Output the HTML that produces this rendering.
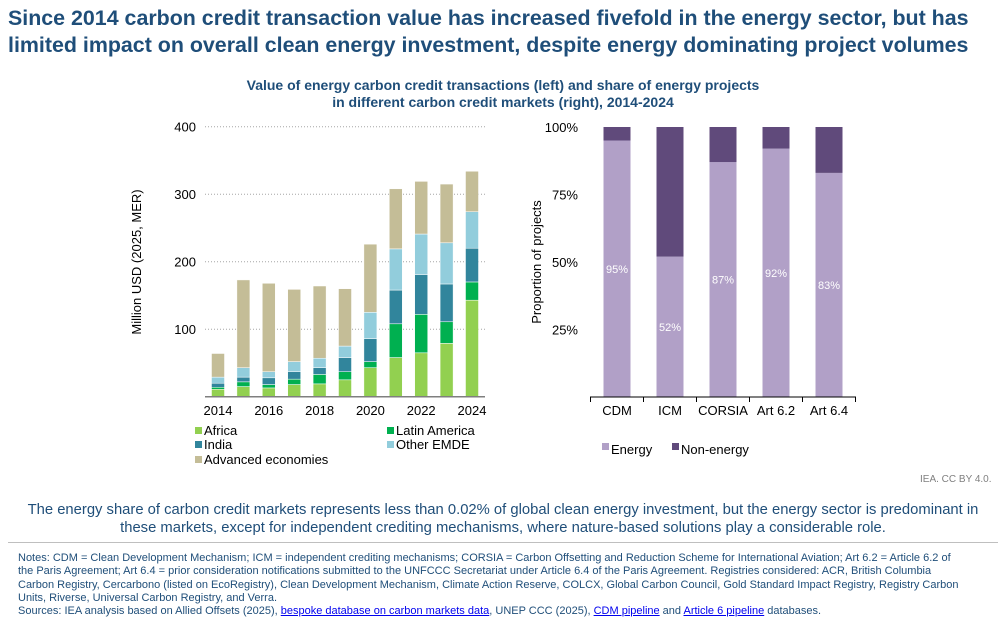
<!DOCTYPE html>
<html><head><meta charset="utf-8"><style>
body{margin:0;width:1006px;height:623px;background:#fff;font-family:"Liberation Sans",Arial,sans-serif;position:relative;overflow:hidden}
.abs{position:absolute}
a{color:#0000ee;text-decoration:underline}
</style></head><body>
<div class="abs" style="left:8px;top:5px;width:985px;font-size:21.4px;font-weight:bold;color:#1f4e79;line-height:27px">Since 2014 carbon credit transaction value has increased fivefold in the energy sector, but has limited impact on overall clean energy investment, despite energy dominating project volumes</div>
<div class="abs" style="left:0;top:77px;width:1006px;text-align:center;font-size:14px;font-weight:bold;color:#1f4e79;line-height:17px">Value of energy carbon credit transactions (left) and share of energy projects<br>in different carbon credit markets (right), 2014-2024</div>
<svg class="abs" style="left:0;top:0" width="1006" height="623" id="chart"></svg>
<div class="abs" style="left:920px;top:474px;font-size:10px;color:#808080">IEA. CC BY 4.0.</div>
<div class="abs" style="left:23px;top:501px;width:960px;text-align:center;font-size:14.8px;color:#1f4e79;line-height:18px">The energy share of carbon credit markets represents less than 0.02% of global clean energy investment, but the energy sector is predominant in these markets, except for independent crediting mechanisms, where nature-based solutions play a considerable role.</div>
<div class="abs" style="left:8px;top:542px;width:990px;height:1px;background:#bfbfbf"></div>
<div class="abs" style="left:18px;top:552px;width:947px;font-size:11px;color:#1f4e79;line-height:13.3px">Notes: CDM = Clean Development Mechanism; ICM = independent crediting mechanisms; CORSIA = Carbon Offsetting and Reduction Scheme for International Aviation; Art 6.2 = Article 6.2 of the Paris Agreement; Art 6.4 = prior consideration notifications submitted to the UNFCCC Secretariat under Article 6.4 of the Paris Agreement. Registries considered: ACR, British Columbia Carbon Registry, Cercarbono (listed on EcoRegistry), Clean Development Mechanism, Climate Action Reserve, COLCX, Global Carbon Council, Gold Standard Impact Registry, Registry Carbon Units, Riverse, Universal Carbon Registry, and Verra.</div>
<div class="abs" style="left:18px;top:605px;font-size:11px;color:#1f4e79">Sources: IEA analysis based on Allied Offsets (2025), <a>bespoke database on carbon markets data</a>, UNEP CCC (2025), <a>CDM pipeline</a> and <a>Article 6 pipeline</a> databases.</div>
<script>
const years=[2014,2015,2016,2017,2018,2019,2020,2021,2022,2023,2024];
const africa=[11,15,13,18,19,25,43,58,65,79,143];
const latam=[3,7,5,8,14,12,9,50,57,32,27];
const india=[6,7,10,11,10,21,34,50,59,56,50];
const otherEmde=[9,14,9,15,14,17,39,61,60,61,54];
const advanced=[35,130,131,107,107,85,101,89,78,87,60];
const leftTicks=[100,200,300,400];
const xLabels=[2014,2016,2018,2020,2022,2024];
const markets=["CDM","ICM","CORSIA","Art 6.2","Art 6.4"];
const energyShare=[95,52,87,92,83];
const rightTicks=[25,50,75,100];

const svg=document.getElementById('chart');
const NS='http://www.w3.org/2000/svg';
function mk(t,a,txt){const e=document.createElementNS(NS,t);for(const k in a)e.setAttribute(k,a[k]);if(txt!==undefined)e.textContent=txt;svg.appendChild(e);return e;}
const ly=v=>396.7-v*0.675;
const lx=i=>218+i*25.4;
const bw=13;
leftTicks.forEach(t=>{
 const g=mk('line',{x1:205,x2:485,y1:ly(t),y2:ly(t),stroke:'#a6a6a6','stroke-dasharray':'1,2'});
 
 const l=mk('text',{x:196,y:ly(t)+5,'text-anchor':'end','font-size':13,fill:'#000'},t);
 
});
const series=[[africa,'#92d050','africa'],[latam,'#00b050','latin-america'],[india,'#31859c','india'],[otherEmde,'#92cddc','other-emde'],[advanced,'#c4bd97','advanced-economies']];
years.forEach((y,i)=>{
 let base=0;
 series.forEach(([arr,c,n])=>{
  const v=arr[i];
  const r=mk('rect',{x:lx(i)-bw/2,y:ly(base+v),width:bw,height:ly(base)-ly(base+v),fill:c,stroke:'#fff','stroke-width':0.5});
  
  base+=v;
 });
});
const ax=mk('line',{x1:205,x2:485,y1:396.7,y2:396.7,stroke:'#7f7f7f','stroke-width':1.5});

xLabels.forEach(y=>{
 const t=mk('text',{x:lx(years.indexOf(y)),y:415,'text-anchor':'middle','font-size':13},y);
 
});
const yt=mk('text',{transform:'translate(141,262) rotate(-90)','text-anchor':'middle','font-size':13},'Million USD (2025, MER)');

const leg=[['Africa','#92d050',195,434],['Latin America','#00b050',387,434],['India','#31859c',195,448],['Other EMDE','#92cddc',387,448],['Advanced economies','#c4bd97',195,463]];
leg.forEach(([n,c,x,y])=>{
 const r=mk('rect',{x:x,y:y-7,width:7,height:7,fill:c});
 
 const t=mk('text',{x:x+9,y:y+1,'font-size':13},n);
 
});
const ry=v=>397-v*2.7;
const rx=i=>617+i*53;
const rbw=27;
rightTicks.forEach(t=>{
 const l=mk('text',{x:578,y:ry(t)+5,'text-anchor':'end','font-size':13},t+'%');
 
});
markets.forEach((m,i)=>{
 const e=energyShare[i];
 const r1=mk('rect',{x:rx(i)-rbw/2,y:ry(e),width:rbw,height:ry(0)-ry(e),fill:'#b1a0c7'});
 
 const r2=mk('rect',{x:rx(i)-rbw/2,y:ry(100),width:rbw,height:ry(e)-ry(100),fill:'#604a7b'});
 
 const lb=mk('text',{x:rx(i),y:ry(e/2)+4,'text-anchor':'middle','font-size':11,fill:'#fff'},e+'%');
 
 const xl=mk('text',{x:rx(i),y:415,'text-anchor':'middle','font-size':13},m);
 
});
const rax=mk('line',{x1:590,x2:856,y1:397,y2:397,stroke:'#000','stroke-width':1});

for(let i=0;i<=markets.length;i++){
 const tk=mk('line',{x1:rx(i)-26.5,x2:rx(i)-26.5,y1:397,y2:402,stroke:'#000'});
 
}
const ryt=mk('text',{transform:'translate(541,262) rotate(-90)','text-anchor':'middle','font-size':13},'Proportion of projects');

[['Energy','#b1a0c7',602],['Non-energy','#604a7b',672]].forEach(([n,c,x])=>{
 const r=mk('rect',{x:x,y:443,width:7,height:7,fill:c});
 
 const t=mk('text',{x:x+9,y:454,'font-size':13},n);
 
});
</script>
</body></html>
